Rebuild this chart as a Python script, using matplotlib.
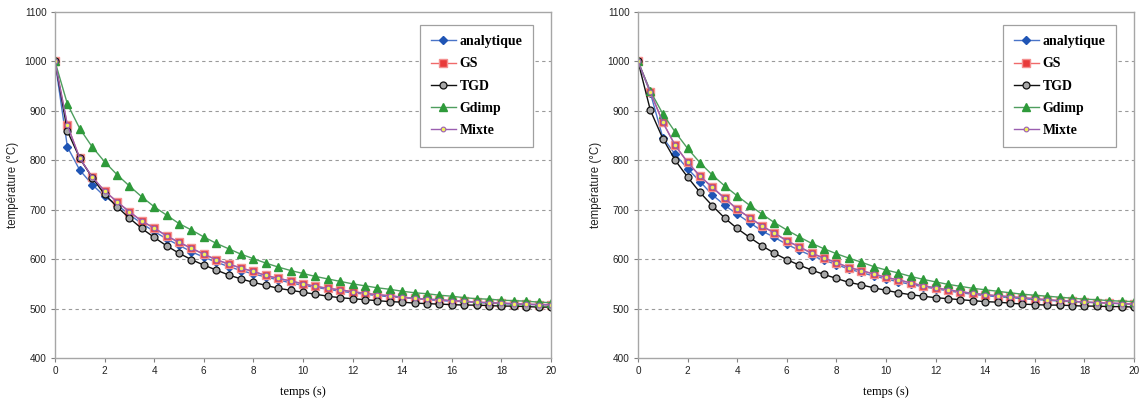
import matplotlib
matplotlib.use("Agg")
import matplotlib.pyplot as plt

# time axis (s)
temps = [0, 0.5, 1, 1.5, 2, 2.5, 3, 3.5, 4, 4.5, 5, 5.5, 6, 6.5, 7, 7.5, 8, 8.5, 9, 9.5,
         10, 10.5, 11, 11.5, 12, 12.5, 13, 13.5, 14, 14.5, 15, 15.5, 16, 16.5, 17, 17.5,
         18, 18.5, 19, 19.5, 20]

series_names = ["analytique", "GS", "TGD", "Gdimp", "Mixte"]

# ---- left panel ----
left_analytique = [1000, 827, 780, 751, 727, 710, 690, 672, 656, 641, 628, 615, 604, 594, 585, 577,
                   570, 564, 558, 552, 547, 543, 539, 535, 532, 529, 526, 524, 522, 520, 518, 516,
                   515, 514, 512, 511, 510, 509, 508, 508, 507]
left_GS = [1000, 871, 804, 766, 738, 716, 696, 677, 663, 647, 634, 622, 610, 599, 590, 582,
           575, 567, 561, 556, 550, 545, 541, 538, 534, 531, 528, 526, 523, 521, 519, 518,
           516, 515, 513, 512, 511, 510, 509, 508, 508]
left_TGD = [1000, 859, 804, 765, 731, 706, 683, 662, 644, 627, 612, 599, 588, 578, 568, 560,
            553, 547, 541, 537, 533, 529, 525, 522, 520, 518, 516, 514, 513, 511, 510, 509,
            508, 507, 507, 506, 505, 505, 504, 503, 503]
left_Gdimp = [1000, 914, 864, 827, 797, 771, 748, 726, 706, 689, 672, 659, 645, 632, 621, 610,
              601, 592, 584, 577, 571, 565, 560, 555, 550, 546, 542, 539, 535, 532, 530, 527,
              525, 522, 520, 519, 517, 516, 515, 513, 512]
left_Mixte = [1000, 871, 804, 766, 738, 716, 696, 677, 663, 647, 634, 622, 610, 599, 590, 582,
              575, 567, 561, 556, 550, 545, 541, 538, 534, 531, 528, 526, 523, 521, 519, 518,
              516, 515, 513, 512, 511, 510, 509, 508, 508]

# ---- right panel ----
right_analytique = [1000, 936, 846, 812, 783, 757, 730, 709, 691, 674, 657, 644, 630, 618, 607, 598,
                    589, 580, 573, 566, 560, 554, 549, 544, 540, 536, 532, 529, 526, 524, 522, 520,
                    518, 517, 515, 514, 513, 512, 511, 510, 509]
right_GS = [1000, 938, 877, 830, 796, 768, 745, 723, 701, 684, 667, 653, 637, 625, 612, 602,
            593, 583, 577, 570, 563, 558, 552, 546, 542, 538, 534, 531, 528, 526, 524, 522,
            520, 518, 516, 515, 513, 512, 511, 510, 509]
right_TGD = [1000, 901, 844, 800, 766, 735, 708, 683, 662, 644, 627, 612, 599, 588, 578, 569,
             561, 553, 548, 542, 537, 532, 528, 525, 522, 520, 518, 516, 514, 513, 511, 509,
             508, 507, 507, 506, 505, 505, 504, 504, 503]
right_Gdimp = [1000, 940, 894, 857, 824, 795, 770, 748, 728, 709, 691, 674, 659, 645, 632, 621,
               611, 602, 594, 585, 578, 572, 565, 559, 554, 549, 545, 541, 538, 535, 532, 529,
               527, 525, 523, 521, 519, 518, 516, 515, 514]
right_Mixte = [1000, 938, 877, 830, 796, 768, 745, 723, 701, 684, 667, 653, 637, 625, 612, 602,
               593, 583, 577, 570, 563, 558, 552, 546, 542, 538, 534, 531, 528, 526, 524, 522,
               520, 518, 516, 515, 513, 512, 511, 510, 509]

x_ticks = [0, 2, 4, 6, 8, 10, 12, 14, 16, 18, 20]
y_ticks = [400, 500, 600, 700, 800, 900, 1000, 1100]

styles = {
    "analytique": dict(color="#4A74C8", marker="D", ms=4.4, mfc="#1F55B5", mec="#1F55B5", lw=1.0),
    "GS": dict(color="#F06A6A", marker="s", ms=5.6, mfc="#E83A3A", mec="#F49090", lw=1.0),
    "TGD": dict(color="#111111", marker="o", ms=5.0, mfc="#A8A8A8", mec="#111111", lw=1.0, mew=0.9),
    "Gdimp": dict(color="#4E9E5E", marker="^", ms=5.4, mfc="#2E9A3A", mec="#2E9A3A", lw=1.0),
    "Mixte": dict(color="#9A5FB0", marker="o", ms=3.4, mfc="#F2F25A", mec="#9A5FB0", lw=1.0, mew=0.8),
}

SERIF = ["Liberation Serif", "DejaVu Serif"]
SANS = ["Liberation Sans", "DejaVu Sans"]
GRAY = "#A6A6A6"

fig = plt.figure(figsize=(11.41, 4.01), dpi=100)
W, H = 1141, 401


def panel(left_px, data):
    ax = fig.add_axes([left_px / W, 43 / H, 496 / W, 346 / H])
    for name in series_names:
        ax.plot(temps, data[name], label=name, **styles[name])
    ax.set_xlim(0, 20)
    ax.set_ylim(400, 1100)
    ax.set_xticks(x_ticks)
    ax.set_yticks(y_ticks)
    for sp in ax.spines.values():
        sp.set_color(GRAY)
        sp.set_linewidth(1.0)
    ax.tick_params(axis="both", direction="out", length=3, width=0.8, color="#808080",
                   labelsize=7.2, labelcolor="#222222", pad=3)
    for lab in ax.get_xticklabels() + ax.get_yticklabels():
        lab.set_fontfamily(SANS)
    for yv in y_ticks[1:-1]:
        ax.axhline(yv, color="#9A9A9A", lw=0.8, ls=(0, (3, 3)), zorder=0)
    ax.set_xlabel("temps (s)", fontfamily=SERIF, fontsize=9, labelpad=7)
    ax.set_ylabel("température (°C)", fontfamily=SANS, fontsize=8.3, labelpad=4,
                  color="#222222")
    leg = ax.legend(loc="upper right", bbox_to_anchor=(0.963, 0.963), frameon=True,
                    fancybox=False, shadow=False, edgecolor="#A0A0A0", framealpha=1,
                    prop={"family": SERIF, "size": 10, "weight": "bold"}, handlelength=1.8,
                    handletextpad=0.25, labelspacing=0.66, borderpad=0.75,
                    borderaxespad=0)
    leg.get_frame().set_linewidth(0.9)
    return ax


panel(55, {"analytique": left_analytique, "GS": left_GS, "TGD": left_TGD,
           "Gdimp": left_Gdimp, "Mixte": left_Mixte})
panel(638, {"analytique": right_analytique, "GS": right_GS, "TGD": right_TGD,
            "Gdimp": right_Gdimp, "Mixte": right_Mixte})

fig.savefig("out.png", dpi=100)
